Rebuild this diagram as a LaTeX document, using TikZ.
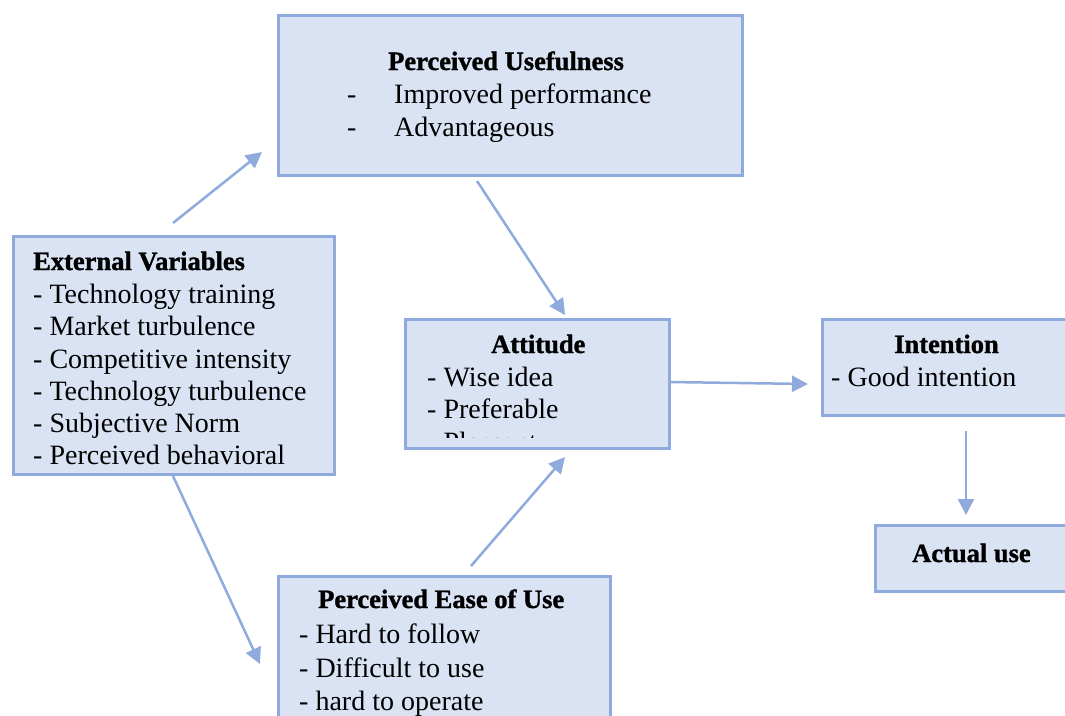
\documentclass[tikz,border=0pt]{standalone}
\usepackage{fontspec}
\setmainfont{Liberation Serif}[BoldFeatures={FakeBold=1.2}]
\usetikzlibrary{arrows.meta}
\definecolor{boxfill}{HTML}{DAE3F3}
\definecolor{boxline}{HTML}{8FAADC}
\tikzset{
  box/.style={draw=boxline, fill=boxfill, line width=2.5pt, anchor=north west, inner sep=0pt},
  ttl/.style={anchor=base west, inner sep=0pt, font=\fontsize{26.5}{30}\selectfont\bfseries},
  itm/.style={anchor=base west, inner sep=0pt, font=\fontsize{28}{32}\selectfont},
  conn/.style={draw=boxline, line width=2.5pt, -{Triangle[length=16pt,width=16pt]}},
}
\begin{document}
\begin{tikzpicture}[x=1pt,y=-1pt]
\useasboundingbox (0,0) rectangle (1065,715);

% boxes
\node[box, minimum width=464pt, minimum height=160pt] (pu) at (277,14) {};
\node[box, minimum width=321pt, minimum height=238pt] (ev) at (12,235) {};
\node[box, minimum width=264pt, minimum height=129pt] (att) at (404,318) {};
\node[box, minimum width=260pt, minimum height=96pt] (int) at (821,318) {};
\node[box, minimum width=200pt, minimum height=66pt] (act) at (874,524) {};
\node[box, minimum width=332pt, minimum height=160pt] (peou) at (277,575) {};

% Perceived Usefulness
\node[ttl] (putitle) at (388,70) {Perceived Usefulness};
\node[itm] (pud1) at (347,103) {-};
\node[itm] (pu1) at (394,103) {Improved performance};
\node[itm] (pud2) at (347,136) {-};
\node[itm] (pu2) at (394,136) {Advantageous};

% External Variables
\node[ttl] (evtitle) at (33,270) {External Variables};
\node[itm] (ev1) at (33,303) {- Technology training};
\node[itm] (ev2) at (33,335) {- Market turbulence};
\node[itm] (ev3) at (33,368) {- Competitive intensity};
\node[itm] (ev4) at (33,400) {- Technology turbulence};
\node[itm] (ev5) at (33,432) {- Subjective Norm};
\node[itm] (ev6) at (33,464) {- Perceived behavioral};

% Attitude
\node[ttl] (atttitle) at (491,353) {Attitude};
\node[itm] (att1) at (427,386) {- Wise idea};
\node[itm] (att2) at (427,418) {- Preferable};
\begin{scope}
  \clip (406,320) rectangle (666,437.5);
  \node[itm] (att3) at (427,451) {- Pleasant};
\end{scope}

% Intention
\node[ttl] (inttitle) at (894,353) {Intention};
\node[itm] (int1) at (831,386) {- Good intention};

% Actual use
\node[ttl] (acttitle) at (912,562) {Actual use};

% Perceived Ease of Use
\node[ttl] (peoutitle) at (318,608) {Perceived Ease of Use};
\node[itm] (peou1) at (299,643) {- Hard to follow};
\node[itm] (peou2) at (299,677) {- Difficult to use};
\node[itm] (peou3) at (299,710) {- hard to operate};

% connector end points
\coordinate (c1s) at (173,223); \coordinate (c1e) at (262,152);
\coordinate (c2s) at (477,181); \coordinate (c2e) at (565,315);
\coordinate (c3s) at (471,566); \coordinate (c3e) at (565,457);
\coordinate (c4s) at (173,476); \coordinate (c4e) at (260,664);
\coordinate (c5s) at (668,382); \coordinate (c5e) at (808,384);
\coordinate (c6s) at (966,431); \coordinate (c6e) at (966,515);

\draw[conn] (c1s) -- (c1e);
\draw[conn] (c2s) -- (c2e);
\draw[conn] (c3s) -- (c3e);
\draw[conn] (c4s) -- (c4e);
\draw[conn] (c5s) -- (c5e);
\draw[conn] (c6s) -- (c6e);
\end{tikzpicture}
\end{document}
